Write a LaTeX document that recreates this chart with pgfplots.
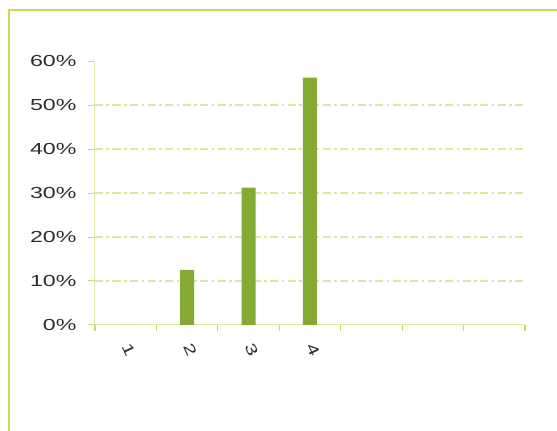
\documentclass[border=0pt]{standalone}
\usepackage{pgfplots}
\pgfplotsset{compat=1.18}
\usepackage{fontspec}
\setmainfont[FakeStretch=1.45]{Liberation Sans}
\definecolor{frame}{HTML}{C9DB55}
\definecolor{axline}{HTML}{DEEAA6}
\definecolor{gridc}{HTML}{DCE89C}
\definecolor{tickc}{HTML}{CBDD66}
\definecolor{barc}{HTML}{84AA33}
\definecolor{txt}{HTML}{2E2E2E}
\begin{document}
\begin{tikzpicture}[x=1pt,y=1pt]
\useasboundingbox (0,0) rectangle (557,431);
\begin{scope}
\clip (0,0) rectangle (557,431);
\draw[frame, line width=2.5pt] (9,-10) -- (9,421) -- (570,421);
\end{scope}
\begin{axis}[
  at={(95pt,106pt)}, anchor=origin,
  scale only axis,
  width=430pt, height=264pt,
  xmin=0.5, xmax=7.5,
  ymin=0, ymax=60,
  axis lines=left,
  axis line style={axline, line width=1pt, -},
  xtick={1,...,7},
  xticklabels={1,2,3,4,,,},
  minor xtick={0.5,1.5,...,7.5},
  major x tick style={draw=none},
  minor x tick style={tickc, line width=1.2pt},
  minor tick length=6pt,
  xticklabel style={xshift=3pt, yshift=-18pt, rotate=-65, anchor=center, font=\fontsize{15}{15}\selectfont, text=txt},
  ytick={0,10,...,60},
  yticklabels={0\%,10\%,20\%,30\%,40\%,50\%,60\%},
  yticklabel style={font=\fontsize{16}{16}\selectfont, text=txt, xshift=-8pt},
  extra y ticks={10,20,30,40,50},
  extra y tick labels={},
  extra y tick style={grid=major, major tick length=0pt},
  tick align=outside,
  major tick length=7pt,
  ytick style={tickc, line width=1pt},
  ymajorgrids=false,
  grid style={gridc, line width=1.2pt, dash pattern=on 8pt off 3.5pt on 2.5pt off 3.5pt},
  every outer x axis line/.append style={-},
  every outer y axis line/.append style={-},
]
\addplot[ybar, bar width=14pt, fill=barc, draw=none] coordinates {(1,0) (2,12.5) (3,31.25) (4,56.25)};
\end{axis}
\end{tikzpicture}
\end{document}
